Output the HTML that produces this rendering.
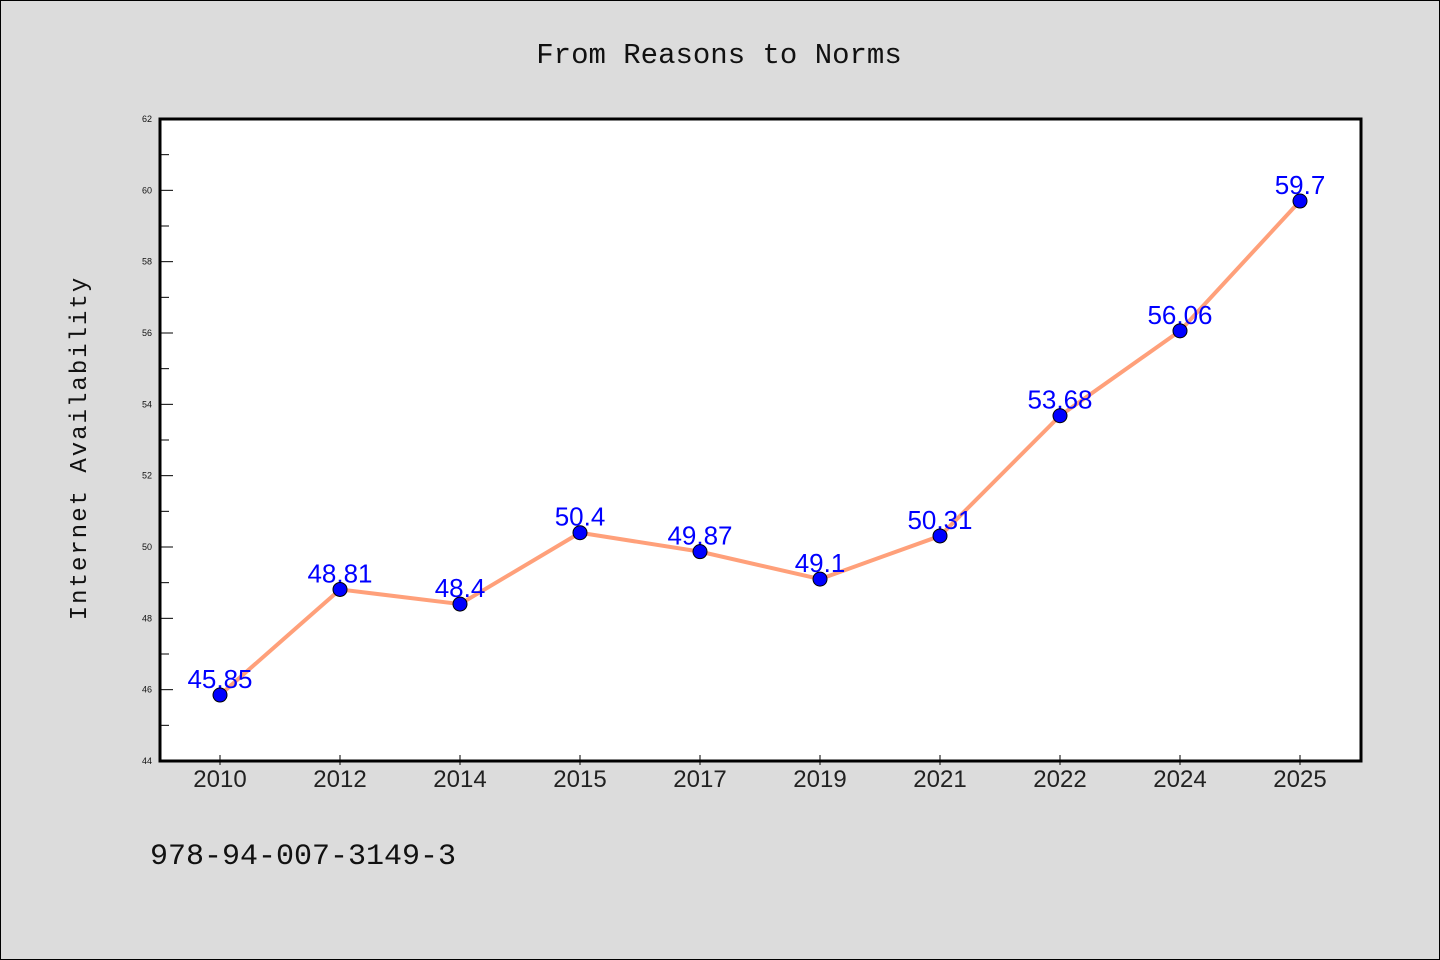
<!DOCTYPE html>
<html><head><meta charset="utf-8"><style>
html,body{margin:0;padding:0;background:#dcdcdc}
svg{display:block}
</style></head><body>
<svg width="1440" height="960" xmlns="http://www.w3.org/2000/svg">
<rect x="0.5" y="0.5" width="1439" height="959" fill="#dcdcdc" stroke="#000"/>
<text x="719" y="63" text-anchor="middle" font-family="Liberation Mono, monospace" font-size="29" fill="#111">From Reasons to Norms</text>
<text transform="translate(86,448) rotate(-90)" text-anchor="middle" font-family="Liberation Mono, monospace" font-size="24" fill="#111" letter-spacing="2">Internet Availability</text>
<text x="150" y="864" font-family="Liberation Mono, monospace" font-size="30" fill="#111">978-94-007-3149-3</text>
<rect x="160" y="119" width="1201" height="642" fill="#fff"/>
<g id="ticks"></g>
<g id="marks"></g>
<rect x="160" y="119" width="1201" height="642" fill="none" stroke="#000" stroke-width="3"/>
</svg>
<script>
const categories = ["2010","2012","2014","2015","2017","2019","2021","2022","2024","2025"];
const values = [45.85,48.81,48.4,50.4,49.87,49.1,50.31,53.68,56.06,59.7];
const valueLabels = ["45.85","48.81","48.4","50.4","49.87","49.1","50.31","53.68","56.06","59.7"];
const yTicks = [44,46,48,50,52,54,56,58,60,62];
const NS="http://www.w3.org/2000/svg";
const L=160,R=1361,T=119,B=761,yMin=44,yMax=62;
const xs=i=>L+60+i*(1200/categories.length);
const ys=v=>B-(v-yMin)/(yMax-yMin)*(B-T);
function mk(tag,attrs,parent){const e=document.createElementNS(NS,tag);for(const k in attrs)e.setAttribute(k,attrs[k]);parent.appendChild(e);return e;}
const tg=document.getElementById('ticks'), mg=document.getElementById('marks');
yTicks.forEach(v=>{
  const l=mk('line',{x1:L,x2:L+13,y1:ys(v),y2:ys(v),stroke:'#000','stroke-width':1},tg);
  
  
  const t=mk('text',{x:L-8,y:ys(v)+3,'text-anchor':'end','font-family':'Liberation Sans, sans-serif','font-size':9,fill:'#111'},tg);
  t.textContent=v;
  
  
  if(v<yMax){
    const m=mk('line',{x1:L,x2:L+9,y1:ys(v+1),y2:ys(v+1),stroke:'#000','stroke-width':1},tg);
    
    
  }
});
categories.forEach((c,i)=>{
  const l=mk('line',{x1:xs(i),x2:xs(i),y1:B-6,y2:B+4,stroke:'#000','stroke-width':1},tg);
  
  
  const t=mk('text',{x:xs(i),y:B+26,'text-anchor':'middle','font-family':'Liberation Sans, sans-serif','font-size':24,fill:'#222'},tg);
  t.textContent=c;
  
  
});
const pl=mk('polyline',{points:values.map((v,i)=>xs(i)+','+ys(v)).join(' '),fill:'none',stroke:'#ffa07a','stroke-width':4,'stroke-linejoin':'round'},mg);


values.forEach((v,i)=>{
  const t=mk('text',{x:xs(i),y:ys(v)-7,'text-anchor':'middle','font-family':'Liberation Sans, sans-serif','font-size':26,fill:'#0000ff'},mg);
  t.textContent=valueLabels[i];
  
  
});
values.forEach((v,i)=>{
  const c=mk('circle',{cx:xs(i),cy:ys(v),r:7,fill:'#0000ff',stroke:'#000','stroke-width':1},mg);
  
  
});
</script>
</body></html>
